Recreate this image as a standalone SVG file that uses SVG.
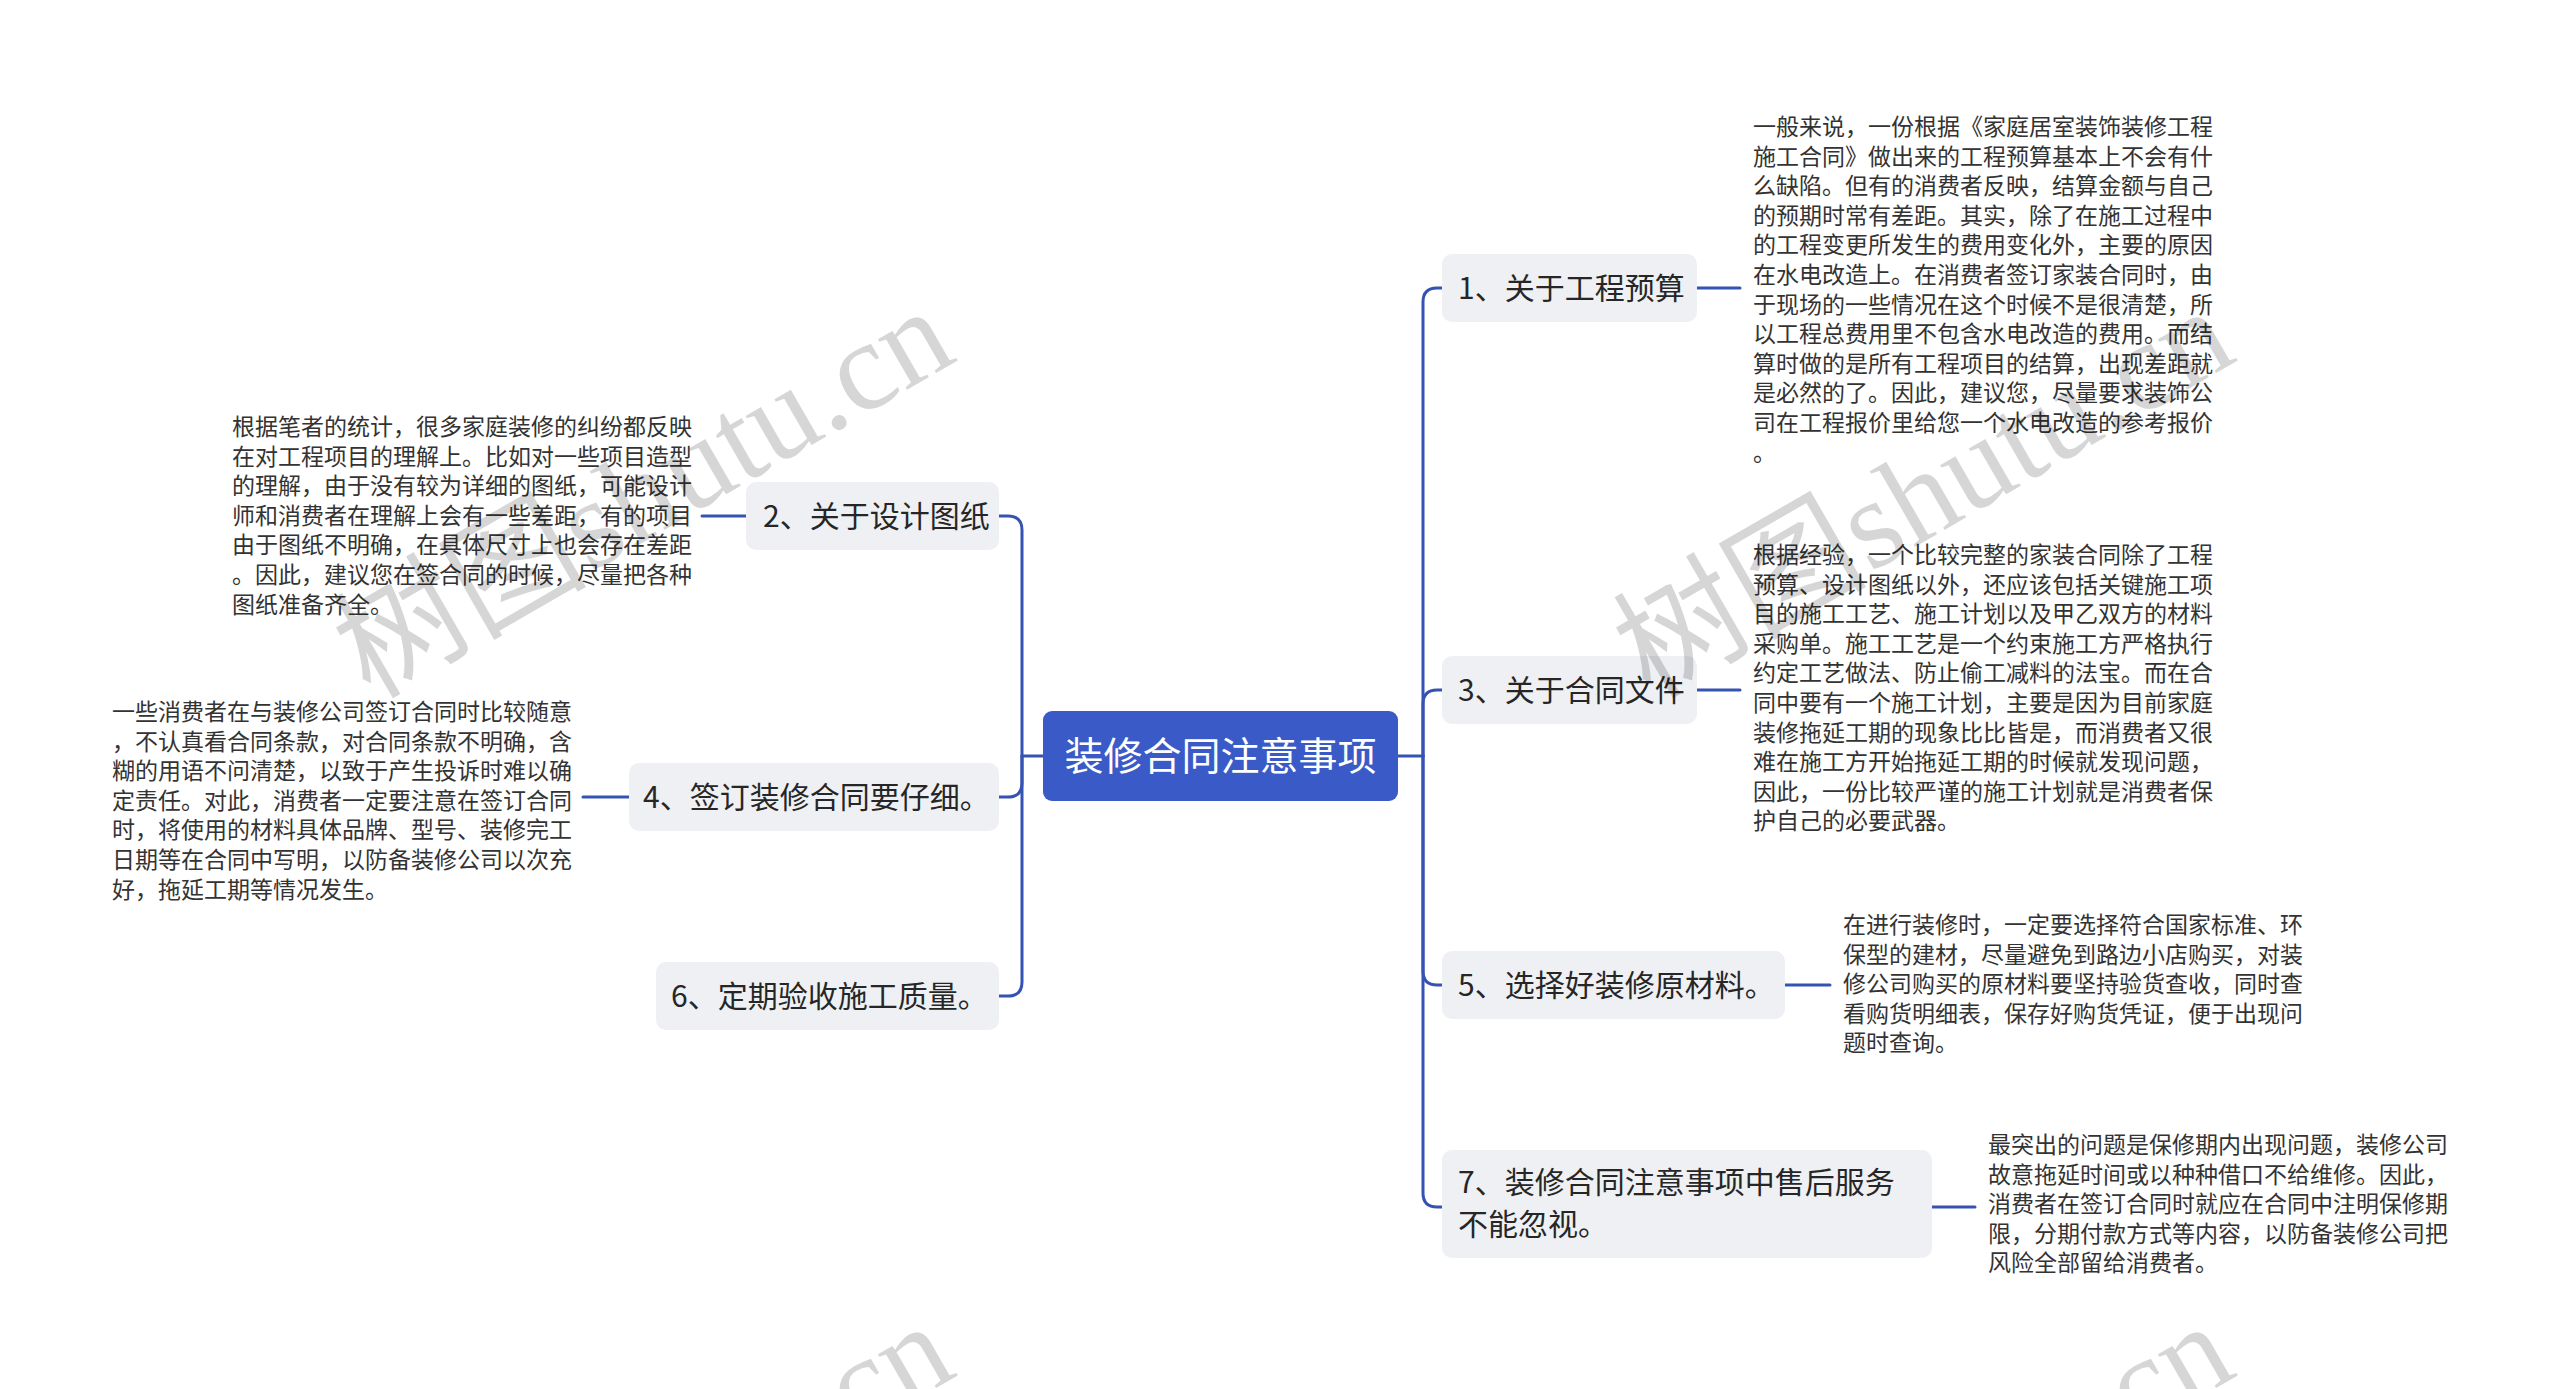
<svg xmlns="http://www.w3.org/2000/svg" width="2560" height="1389" viewBox="0 0 2560 1389">
<style>
.bg{fill:#ffffff}
.root{fill:#3a5bc7}
.rootT{font-family:"Noto Sans CJK SC","Microsoft YaHei",sans-serif;font-size:39px;fill:#ffffff}
.box{fill:#eef0f3}
.nt{font-family:"Noto Sans CJK SC","Microsoft YaHei",sans-serif;font-size:30px;fill:#262626}
.dt{font-family:"Noto Sans CJK SC","Microsoft YaHei",sans-serif;font-size:23px;fill:#333333}
.ln{fill:none;stroke:#3553b2;stroke-width:3;stroke-linecap:round}
.wm{font-family:"Liberation Serif","Noto Sans CJK SC",serif;font-size:127px;fill:#000000;fill-opacity:0.16}
</style>
<rect class="bg" x="0" y="0" width="2560" height="1389"/>
<g id="connectors">
<path class="ln" d="M1398,756 H1423"/>
<path class="ln" d="M1423,756 V302 Q1423,288 1437,288 H1442"/>
<path class="ln" d="M1423,756 V704 Q1423,690 1437,690 H1442"/>
<path class="ln" d="M1423,756 V971 Q1423,985 1437,985 H1442"/>
<path class="ln" d="M1423,756 V1193 Q1423,1207 1437,1207 H1442"/>
<path class="ln" d="M1043,756 H1022"/>
<path class="ln" d="M1022,756 V530 Q1022,516 1008,516 H999"/>
<path class="ln" d="M1022,756 V783 Q1022,797 1008,797 H999"/>
<path class="ln" d="M1022,756 V982 Q1022,996 1008,996 H999"/>
<path class="ln" d="M1697,288 H1740"/>
<path class="ln" d="M1697,690 H1740"/>
<path class="ln" d="M1785,985 H1830"/>
<path class="ln" d="M1932,1207 H1975"/>
<path class="ln" d="M702,516 H746"/>
<path class="ln" d="M583,797 H629"/>
</g>
<g id="root">
<rect class="root" x="1043" y="711" width="355" height="90" rx="9"/>
<text class="rootT" x="1220.5" y="770" text-anchor="middle">装修合同注意事项</text>
</g>
<g id="n1">
<rect class="box" x="1442" y="254" width="255" height="68" rx="10"/>
<text class="nt" x="1458" y="299">1、关于工程预算</text>
</g>
<g id="d1">
<text class="dt" x="1753" y="135">
<tspan x="1753">一般来说，一份根据《家庭居室装饰装修工程</tspan>
<tspan x="1753" dy="29.6">施工合同》做出来的工程预算基本上不会有什</tspan>
<tspan x="1753" dy="29.6">么缺陷。但有的消费者反映，结算金额与自己</tspan>
<tspan x="1753" dy="29.6">的预期时常有差距。其实，除了在施工过程中</tspan>
<tspan x="1753" dy="29.6">的工程变更所发生的费用变化外，主要的原因</tspan>
<tspan x="1753" dy="29.6">在水电改造上。在消费者签订家装合同时，由</tspan>
<tspan x="1753" dy="29.6">于现场的一些情况在这个时候不是很清楚，所</tspan>
<tspan x="1753" dy="29.6">以工程总费用里不包含水电改造的费用。而结</tspan>
<tspan x="1753" dy="29.6">算时做的是所有工程项目的结算，出现差距就</tspan>
<tspan x="1753" dy="29.6">是必然的了。因此，建议您，尽量要求装饰公</tspan>
<tspan x="1753" dy="29.6">司在工程报价里给您一个水电改造的参考报价</tspan>
<tspan x="1753" dy="29.6">。</tspan>
</text>
</g>
<g id="n3">
<rect class="box" x="1442" y="656" width="255" height="68" rx="10"/>
<text class="nt" x="1458" y="701">3、关于合同文件</text>
</g>
<g id="d3">
<text class="dt" x="1753" y="563">
<tspan x="1753">根据经验，一个比较完整的家装合同除了工程</tspan>
<tspan x="1753" dy="29.6">预算、设计图纸以外，还应该包括关键施工项</tspan>
<tspan x="1753" dy="29.6">目的施工工艺、施工计划以及甲乙双方的材料</tspan>
<tspan x="1753" dy="29.6">采购单。施工工艺是一个约束施工方严格执行</tspan>
<tspan x="1753" dy="29.6">约定工艺做法、防止偷工减料的法宝。而在合</tspan>
<tspan x="1753" dy="29.6">同中要有一个施工计划，主要是因为目前家庭</tspan>
<tspan x="1753" dy="29.6">装修拖延工期的现象比比皆是，而消费者又很</tspan>
<tspan x="1753" dy="29.6">难在施工方开始拖延工期的时候就发现问题，</tspan>
<tspan x="1753" dy="29.6">因此，一份比较严谨的施工计划就是消费者保</tspan>
<tspan x="1753" dy="29.6">护自己的必要武器。</tspan>
</text>
</g>
<g id="n5">
<rect class="box" x="1442" y="951" width="343" height="68" rx="10"/>
<text class="nt" x="1458" y="996">5、选择好装修原材料。</text>
</g>
<g id="d5">
<text class="dt" x="1843" y="933">
<tspan x="1843">在进行装修时，一定要选择符合国家标准、环</tspan>
<tspan x="1843" dy="29.6">保型的建材，尽量避免到路边小店购买，对装</tspan>
<tspan x="1843" dy="29.6">修公司购买的原材料要坚持验货查收，同时查</tspan>
<tspan x="1843" dy="29.6">看购货明细表，保存好购货凭证，便于出现问</tspan>
<tspan x="1843" dy="29.6">题时查询。</tspan>
</text>
</g>
<g id="n7">
<rect class="box" x="1442" y="1150" width="490" height="108" rx="10"/>
<text class="nt" x="1458" y="1193">
<tspan x="1458">7、装修合同注意事项中售后服务</tspan>
<tspan x="1458" dy="42">不能忽视。</tspan>
</text>
</g>
<g id="d7">
<text class="dt" x="1988" y="1153">
<tspan x="1988">最突出的问题是保修期内出现问题，装修公司</tspan>
<tspan x="1988" dy="29.6">故意拖延时间或以种种借口不给维修。因此，</tspan>
<tspan x="1988" dy="29.6">消费者在签订合同时就应在合同中注明保修期</tspan>
<tspan x="1988" dy="29.6">限，分期付款方式等内容，以防备装修公司把</tspan>
<tspan x="1988" dy="29.6">风险全部留给消费者。</tspan>
</text>
</g>
<g id="n2">
<rect class="box" x="746" y="482" width="253" height="68" rx="10"/>
<text class="nt" x="763" y="527">2、关于设计图纸</text>
</g>
<g id="d2">
<text class="dt" x="232" y="435">
<tspan x="232">根据笔者的统计，很多家庭装修的纠纷都反映</tspan>
<tspan x="232" dy="29.6">在对工程项目的理解上。比如对一些项目造型</tspan>
<tspan x="232" dy="29.6">的理解，由于没有较为详细的图纸，可能设计</tspan>
<tspan x="232" dy="29.6">师和消费者在理解上会有一些差距，有的项目</tspan>
<tspan x="232" dy="29.6">由于图纸不明确，在具体尺寸上也会存在差距</tspan>
<tspan x="232" dy="29.6">。因此，建议您在签合同的时候，尽量把各种</tspan>
<tspan x="232" dy="29.6">图纸准备齐全。</tspan>
</text>
</g>
<g id="n4">
<rect class="box" x="629" y="763" width="370" height="68" rx="10"/>
<text class="nt" x="643" y="808">4、签订装修合同要仔细。</text>
</g>
<g id="d4">
<text class="dt" x="112" y="720">
<tspan x="112">一些消费者在与装修公司签订合同时比较随意</tspan>
<tspan x="112" dy="29.6">，不认真看合同条款，对合同条款不明确，含</tspan>
<tspan x="112" dy="29.6">糊的用语不问清楚，以致于产生投诉时难以确</tspan>
<tspan x="112" dy="29.6">定责任。对此，消费者一定要注意在签订合同</tspan>
<tspan x="112" dy="29.6">时，将使用的材料具体品牌、型号、装修完工</tspan>
<tspan x="112" dy="29.6">日期等在合同中写明，以防备装修公司以次充</tspan>
<tspan x="112" dy="29.6">好，拖延工期等情况发生。</tspan>
</text>
</g>
<g id="n6">
<rect class="box" x="656" y="962" width="343" height="68" rx="10"/>
<text class="nt" x="671" y="1007">6、定期验收施工质量。</text>
</g>
<g id="watermarks">
<text class="wm" x="370" y="700" transform="rotate(-30 370 700)">树图shutu.cn</text>
<text class="wm" x="1650" y="700" transform="rotate(-30 1650 700)">树图shutu.cn</text>
<text class="wm" x="370" y="1715" transform="rotate(-30 370 1715)">树图shutu.cn</text>
<text class="wm" x="1650" y="1715" transform="rotate(-30 1650 1715)">树图shutu.cn</text>
</g>
</svg>
